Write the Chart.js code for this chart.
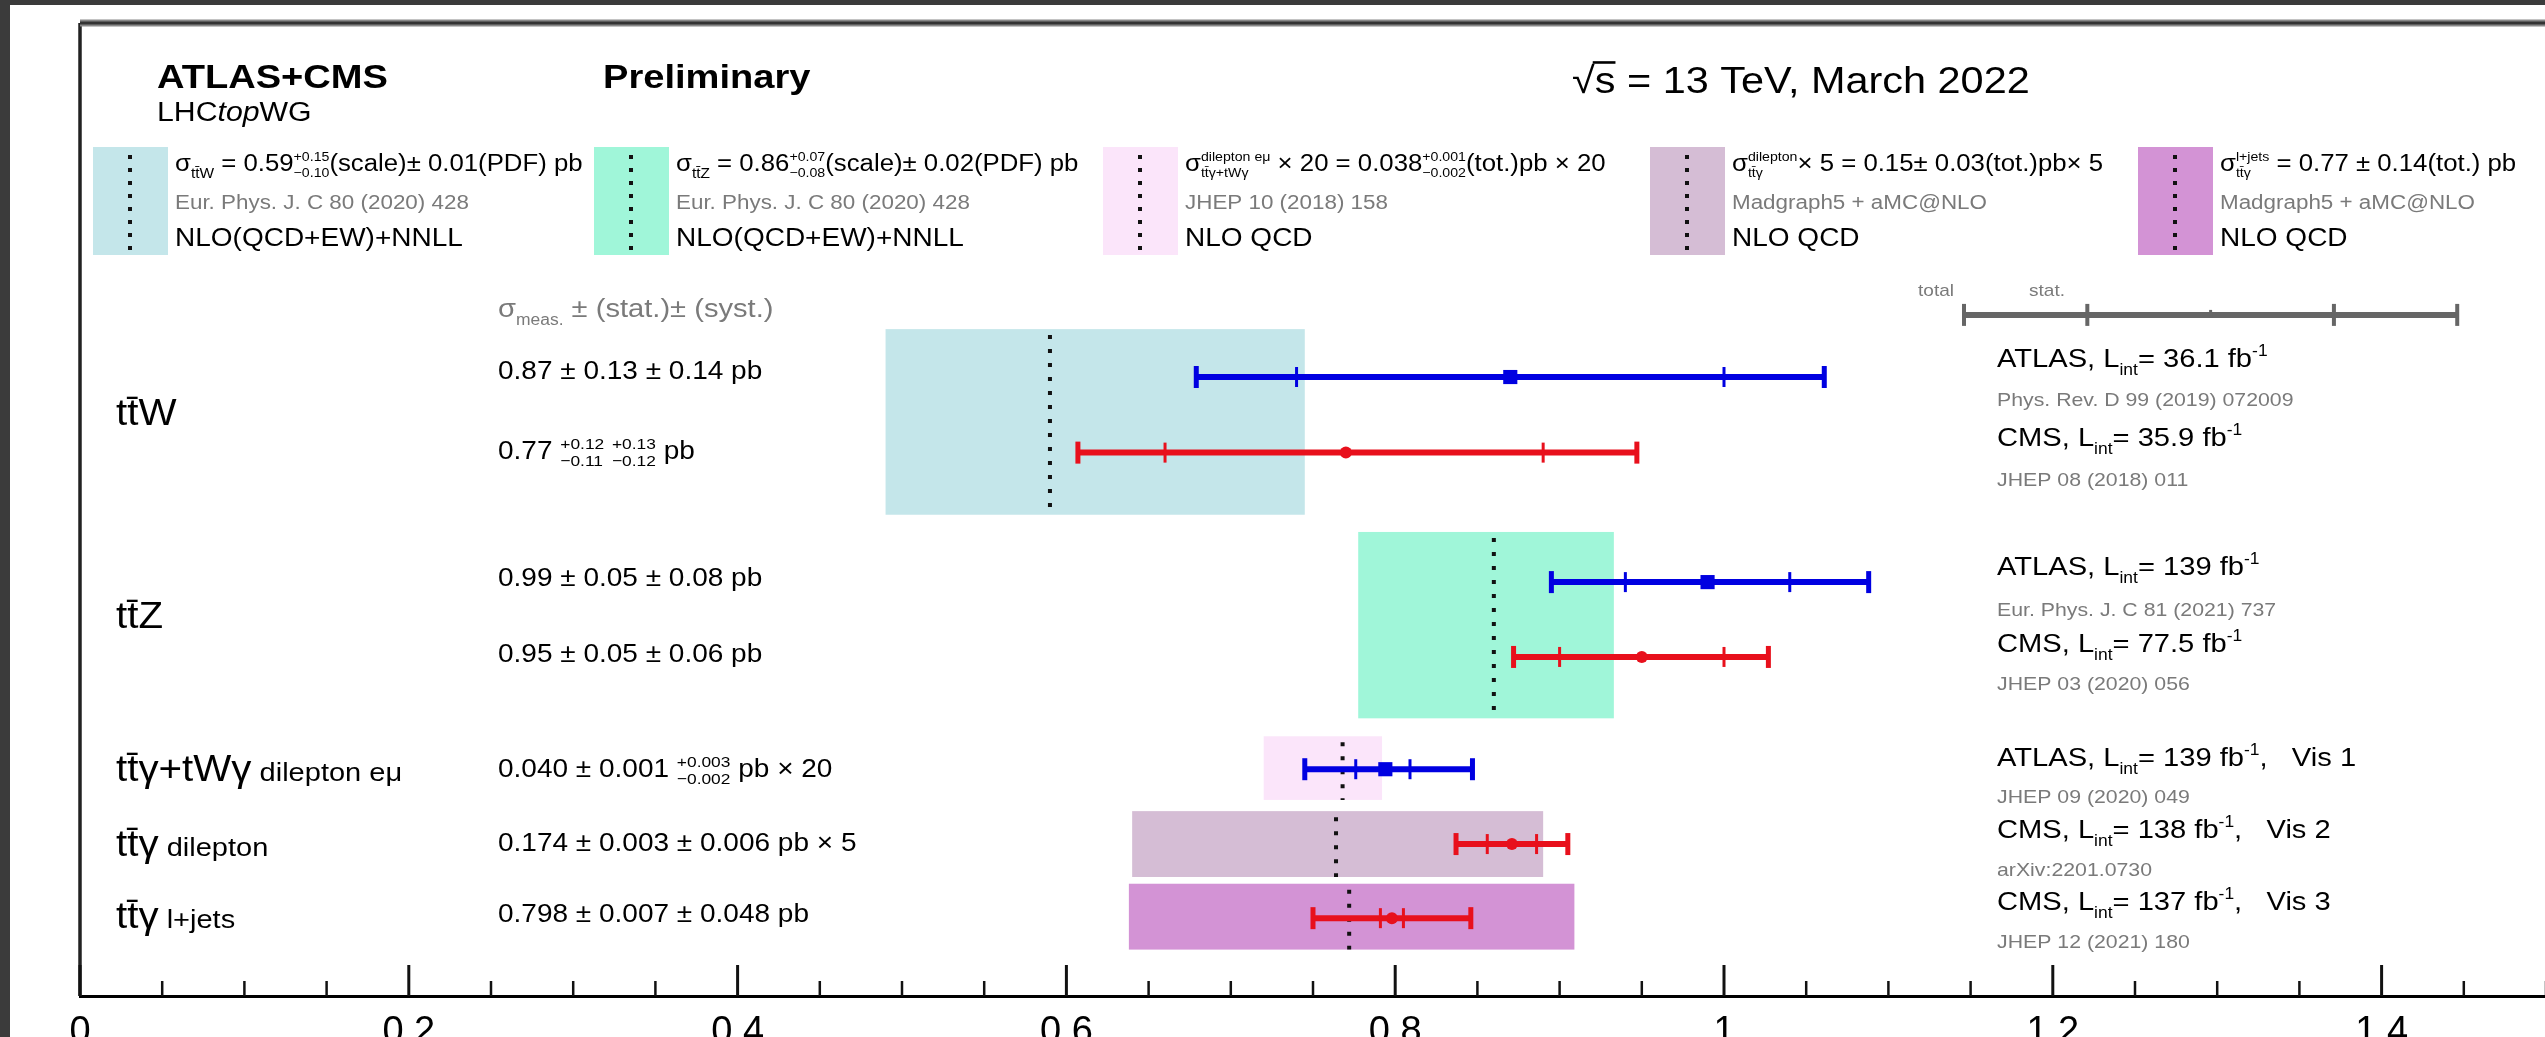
<!DOCTYPE html>
<html>
<head>
<meta charset="utf-8">
<script src="https://cdn.jsdelivr.net/npm/chart.js@4.4.1/dist/chart.umd.min.js"></script>
<style>
  html, body { margin: 0; padding: 0; overflow: hidden; background: #3a3a3a; }
  canvas { display: block; }
</style>
</head>
<body>
<canvas id="xsec" width="2560" height="1037"></canvas>
<script>
// measurements, top to bottom
const experiment = ['ATLAS', 'CMS', 'ATLAS', 'CMS', 'ATLAS', 'CMS', 'CMS'];
const rowPos = [4.73, 5.74, 7.47, 8.47, 9.97, 10.97, 11.96];
const measured = [0.87, 0.77, 0.99, 0.95, 0.794, 0.871, 0.798];
const statLow = [0.74, 0.66, 0.94, 0.90, 0.776, 0.856, 0.791];
const statHigh = [1.00, 0.89, 1.04, 1.00, 0.809, 0.886, 0.805];
const totalLow = [0.679, 0.607, 0.895, 0.872, 0.745, 0.837, 0.750];
const totalHigh = [1.061, 0.947, 1.088, 1.027, 0.847, 0.905, 0.846];

// theory predictions (ttW, ttZ, ttgamma emu, ttgamma dilepton, ttgamma l+jets)
const theoryCentre = [0.59, 0.86, 0.768, 0.764, 0.772];
const theoryLow = [0.49, 0.7775, 0.72, 0.64, 0.638];
const theoryHigh = [0.745, 0.933, 0.792, 0.89, 0.909];
const theoryTop = [4.09, 6.80, 9.53, 10.53, 11.50];
const theoryBottom = [6.57, 9.29, 10.38, 11.41, 12.38];
const theoryColors = ['#c4e6ea', '#a0f6d9', '#fbe5fa', '#d5bdd5', '#d393d5'];

// total / stat. key in the top right corner
const keyCentre = 1.296, keyStat = 0.075, keyTotal = 0.15, keyPos = 3.90;

const BLUE = 'rgb(0, 0, 225)';
const RED = 'rgb(232, 16, 28)';
const GREY = '#7a7a7a';
const FONT = '"Liberation Sans", Arial, sans-serif';
const SX = 1.12; // the picture is a bit stretched sideways

function put(ctx, s, x, y) {
  ctx.save();
  ctx.translate(x, y);
  ctx.scale(SX, 1);
  ctx.fillText(s, 0, 0);
  ctx.restore();
}

// parts: strings, {t, s, dy, c, b, i, o} or stacked {up, dn, s}
function rich(ctx, x, y, parts, size, color) {
  let cx = x;
  ctx.textBaseline = 'alphabetic';
  ctx.textAlign = 'left';
  parts.forEach(p => {
    if (typeof p === 'string') p = { t: p };
    const k = p.s || 1;
    ctx.font = (p.i ? 'italic ' : '') + (p.b ? 'bold ' : '') + (size * k) + 'px ' + FONT;
    ctx.fillStyle = p.c || color;
    if (p.up !== undefined) {
      const w = Math.max(ctx.measureText(p.up).width, ctx.measureText(p.dn).width);
      put(ctx, p.up, cx, y - size * 0.42);
      put(ctx, p.dn, cx, y + size * 0.26);
      cx += w * SX;
    } else {
      const w = ctx.measureText(p.t).width * SX;
      put(ctx, p.t, cx, y + (p.dy || 0) * size);
      if (p.o) ctx.fillRect(cx - 2, y - size * 0.86, w + 2, size * 0.07);
      cx += w;
    }
  });
}

function seg(ctx, x0, y0, x1, y1) {
  ctx.beginPath();
  ctx.moveTo(x0, y0);
  ctx.lineTo(x1, y1);
  ctx.stroke();
}

const sub = t => ({ t: t, s: 0.6, dy: 0.3 });
const sup = t => ({ t: t, s: 0.6, dy: -0.42 });
const lumi = (exp, l, vis) => [exp + ', L', sub('int'), '= ' + l + ' fb', sup('-1')].concat(vis ? [',   ' + vis] : []);

const drawing = {
  id: 'drawing',
  beforeDraw(chart) {
    const ctx = chart.ctx;
    ctx.save();
    ctx.fillStyle = '#ffffff';
    ctx.fillRect(0, 0, chart.width, chart.height);
    ctx.fillStyle = '#3b3b3b';
    ctx.fillRect(0, 0, chart.width, 5);
    ctx.fillRect(0, 0, 10, chart.height);
    ctx.restore();
  },
  beforeDatasetsDraw(chart) {
    const { ctx, scales: { x, y } } = chart;
    ctx.save();
    // theory bands
    theoryCentre.forEach((c, i) => {
      const x0 = x.getPixelForValue(theoryLow[i]), x1 = x.getPixelForValue(theoryHigh[i]);
      const y0 = y.getPixelForValue(theoryTop[i]), y1 = y.getPixelForValue(theoryBottom[i]);
      ctx.fillStyle = theoryColors[i];
      ctx.fillRect(x0, y0, x1 - x0, y1 - y0);
    });
    ctx.strokeStyle = '#111';
    ctx.lineWidth = 4;
    ctx.setLineDash([4, 10]);
    theoryCentre.forEach((c, i) => {
      const px = x.getPixelForValue(c);
      seg(ctx, px, y.getPixelForValue(theoryTop[i]) + 6, px, y.getPixelForValue(theoryBottom[i]));
    });
    ctx.setLineDash([]);
    // error bars
    measured.forEach((m, i) => {
      ctx.strokeStyle = experiment[i] === 'ATLAS' ? BLUE : RED;
      const py = y.getPixelForValue(rowPos[i]);
      const a = x.getPixelForValue(totalLow[i]), b = x.getPixelForValue(totalHigh[i]);
      ctx.lineWidth = 6;
      seg(ctx, a, py, b, py);
      ctx.lineWidth = 5;
      seg(ctx, a, py - 11, a, py + 11);
      seg(ctx, b, py - 11, b, py + 11);
      ctx.lineWidth = 3;
      [statLow[i], statHigh[i]].forEach(v => {
        const s = x.getPixelForValue(v);
        seg(ctx, s, py - 10, s, py + 10);
      });
    });
    // key
    const ky = y.getPixelForValue(keyPos);
    ctx.strokeStyle = '#666';
    ctx.lineWidth = 6;
    seg(ctx, x.getPixelForValue(keyCentre - keyTotal), ky, x.getPixelForValue(keyCentre + keyTotal), ky);
    ctx.lineWidth = 4;
    [keyCentre - keyTotal, keyCentre + keyTotal, keyCentre - keyStat, keyCentre + keyStat].forEach(v => {
      const s = x.getPixelForValue(v);
      seg(ctx, s, ky - 11, s, ky + 11);
    });
    ctx.lineWidth = 3;
    seg(ctx, x.getPixelForValue(keyCentre), ky - 5, x.getPixelForValue(keyCentre), ky + 3);
    ctx.restore();
  },
  afterDraw(chart) {
    const { ctx, scales: { x }, chartArea: area } = chart;
    ctx.save();
    // frame
    ctx.strokeStyle = '#222';
    ctx.lineWidth = 3.5;
    seg(ctx, area.left, area.top, area.left, area.bottom);
    ctx.strokeStyle = '#888';
    ctx.lineWidth = 7;
    seg(ctx, area.left, area.top, chart.width, area.top);
    ctx.strokeStyle = '#333';
    ctx.lineWidth = 3;
    seg(ctx, area.left, area.top, chart.width, area.top);
    // inward ticks
    ctx.strokeStyle = '#111';
    x.ticks.forEach(t => {
      const k = Math.round(t.value * 20);
      if (Math.abs(t.value * 20 - k) > 1e-6) return;
      const px = x.getPixelForValue(t.value);
      ctx.lineWidth = k % 4 === 0 ? 3 : 2.5;
      seg(ctx, px, area.bottom, px, area.bottom - (k % 4 === 0 ? 31 : 15));
    });

    // header
    rich(ctx, 157, 88, [{ t: 'ATLAS+CMS', b: true }], 34, '#000');
    rich(ctx, 157, 121, ['LHC', { t: 'top', i: true }, 'WG'], 27, '#000');
    rich(ctx, 603, 88, [{ t: 'Preliminary', b: true }], 34, '#000');
    rich(ctx, 1572, 93, ['\u221A', { t: 's', o: true }, ' = 13 TeV, March 2022'], 37, '#000');

    // theory legend boxes
    const boxX = [93, 594, 1103, 1650, 2138];
    const line1 = [
      ['\u03C3', sub('tt\u0304W'), ' = 0.59', { up: '+0.15', dn: '\u22120.10', s: 0.55 }, '(scale)\u00B1 0.01(PDF) pb'],
      ['\u03C3', sub('tt\u0304Z'), ' = 0.86', { up: '+0.07', dn: '\u22120.08', s: 0.55 }, '(scale)\u00B1 0.02(PDF) pb'],
      ['\u03C3', { up: 'dilepton e\u03BC', dn: 'tt\u0304\u03B3+tW\u03B3', s: 0.55 }, ' \u00D7 20 = 0.038', { up: '+0.001', dn: '\u22120.002', s: 0.55 }, '(tot.)pb \u00D7 20'],
      ['\u03C3', { up: 'dilepton', dn: 'tt\u0304\u03B3', s: 0.55 }, '\u00D7 5 = 0.15\u00B1 0.03(tot.)pb\u00D7 5'],
      ['\u03C3', { up: 'l+jets', dn: 'tt\u0304\u03B3', s: 0.55 }, ' = 0.77 \u00B1 0.14(tot.) pb']
    ];
    const line2 = ['Eur. Phys. J. C 80 (2020) 428', 'Eur. Phys. J. C 80 (2020) 428', 'JHEP 10 (2018) 158',
      'Madgraph5 + aMC@NLO', 'Madgraph5 + aMC@NLO'];
    const line3 = ['NLO(QCD+EW)+NNLL', 'NLO(QCD+EW)+NNLL', 'NLO QCD', 'NLO QCD', 'NLO QCD'];
    boxX.forEach((bx, i) => {
      ctx.fillStyle = theoryColors[i];
      ctx.fillRect(bx, 147, 75, 108);
      ctx.strokeStyle = '#111';
      ctx.lineWidth = 4;
      ctx.setLineDash([4, 9]);
      seg(ctx, bx + 37, 155, bx + 37, 256);
      ctx.setLineDash([]);
      rich(ctx, bx + 82, 171, line1[i], 23, '#000');
      rich(ctx, bx + 82, 209, [line2[i]], 20, GREY);
      rich(ctx, bx + 82, 246, [line3[i]], 25, '#000');
    });

    // process labels
    rich(ctx, 116, 425, ['tt\u0304W'], 36, '#000');
    rich(ctx, 116, 628, ['tt\u0304Z'], 36, '#000');
    rich(ctx, 116, 781, ['tt\u0304\u03B3+tW\u03B3', { t: ' dilepton e\u03BC', s: 0.72 }], 36, '#000');
    rich(ctx, 116, 856, ['tt\u0304\u03B3', { t: ' dilepton', s: 0.72 }], 36, '#000');
    rich(ctx, 116, 928, ['tt\u0304\u03B3', { t: ' l+jets', s: 0.72 }], 36, '#000');

    // measured values
    rich(ctx, 498, 317, ['\u03C3', sub('meas.'), ' \u00B1 (stat.)\u00B1 (syst.)'], 26, GREY);
    rich(ctx, 498, 379, ['0.87 \u00B1 0.13 \u00B1 0.14 pb'], 25, '#000');
    rich(ctx, 498, 459, ['0.77 ', { up: '+0.12', dn: '\u22120.11', s: 0.62 }, ' ', { up: '+0.13', dn: '\u22120.12', s: 0.62 }, ' pb'], 25, '#000');
    rich(ctx, 498, 586, ['0.99 \u00B1 0.05 \u00B1 0.08 pb'], 25, '#000');
    rich(ctx, 498, 662, ['0.95 \u00B1 0.05 \u00B1 0.06 pb'], 25, '#000');
    rich(ctx, 498, 777, ['0.040 \u00B1 0.001 ', { up: '+0.003', dn: '\u22120.002', s: 0.62 }, ' pb \u00D7 20'], 25, '#000');
    rich(ctx, 498, 851, ['0.174 \u00B1 0.003 \u00B1 0.006 pb \u00D7 5'], 25, '#000');
    rich(ctx, 498, 922, ['0.798 \u00B1 0.007 \u00B1 0.048 pb'], 25, '#000');

    // experiments and references
    rich(ctx, 1997, 367, lumi('ATLAS', '36.1'), 26, '#000');
    rich(ctx, 1997, 406, ['Phys. Rev. D 99 (2019) 072009'], 19, GREY);
    rich(ctx, 1997, 446, lumi('CMS', '35.9'), 26, '#000');
    rich(ctx, 1997, 486, ['JHEP 08 (2018) 011'], 19, GREY);
    rich(ctx, 1997, 575, lumi('ATLAS', '139'), 26, '#000');
    rich(ctx, 1997, 616, ['Eur. Phys. J. C 81 (2021) 737'], 19, GREY);
    rich(ctx, 1997, 652, lumi('CMS', '77.5'), 26, '#000');
    rich(ctx, 1997, 690, ['JHEP 03 (2020) 056'], 19, GREY);
    rich(ctx, 1997, 766, lumi('ATLAS', '139', 'Vis 1'), 26, '#000');
    rich(ctx, 1997, 803, ['JHEP 09 (2020) 049'], 19, GREY);
    rich(ctx, 1997, 838, lumi('CMS', '138', 'Vis 2'), 26, '#000');
    rich(ctx, 1997, 876, ['arXiv:2201.0730'], 19, GREY);
    rich(ctx, 1997, 910, lumi('CMS', '137', 'Vis 3'), 26, '#000');
    rich(ctx, 1997, 948, ['JHEP 12 (2021) 180'], 19, GREY);

    rich(ctx, 1918, 296, ['total'], 17, GREY);
    rich(ctx, 2029, 296, ['stat.'], 17, GREY);
    ctx.restore();
  }
};

const points = exp => measured.map((m, i) => ({ x: m, y: rowPos[i] })).filter((p, i) => experiment[i] === exp);

new Chart(document.getElementById('xsec'), {
  type: 'scatter',
  data: {
    datasets: [
      { label: 'ATLAS', data: points('ATLAS'), pointStyle: 'rect', pointRadius: 10, backgroundColor: BLUE, borderColor: BLUE, borderWidth: 0 },
      { label: 'CMS', data: points('CMS'), pointStyle: 'circle', pointRadius: 6, backgroundColor: RED, borderColor: RED, borderWidth: 0 }
    ]
  },
  options: {
    responsive: false,
    animation: false,
    devicePixelRatio: 1,
    layout: { padding: { left: 80, top: 23, right: 5, bottom: 0 } },
    plugins: { legend: { display: false }, tooltip: { enabled: false } },
    scales: {
      x: {
        type: 'linear', min: 0, max: 1.5,
        afterFit: s => { s.height = 41; },
        grid: { drawOnChartArea: false, drawTicks: false },
        border: { color: '#000', width: 3 },
        ticks: {
          stepSize: 0.05, autoSkip: false, maxRotation: 0, padding: 14, color: '#000',
          font: { size: 38, family: FONT },
          callback: v => {
            const k = Math.round(v * 20);
            return k % 4 === 0 ? String(Math.round(v * 10) / 10) : '';
          }
        }
      },
      y: { type: 'linear', min: 0, max: 13, reverse: true, display: false }
    }
  },
  plugins: [drawing]
});
</script>
</body>
</html>
